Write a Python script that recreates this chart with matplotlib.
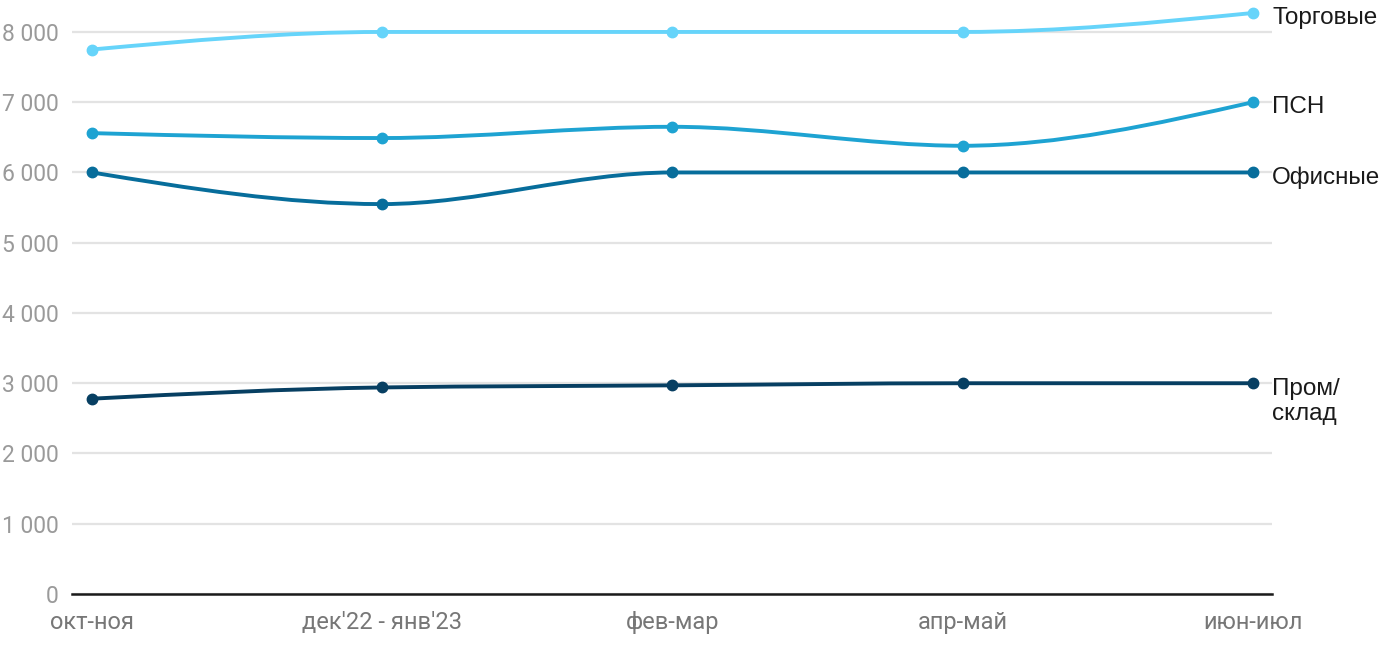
import numpy as np
import matplotlib
matplotlib.use("Agg")
import matplotlib.pyplot as plt
from matplotlib.path import Path
from matplotlib.patches import PathPatch
from matplotlib.ticker import FuncFormatter

# Данные (читаются с картинки)
periods = ["окт-ноя", "дек'22 - янв'23", "фев-мар", "апр-май", "июн-июл"]
torgovye = [7750, 8000, 8000, 8000, 8270]
psn = [6560, 6490, 6650, 6380, 7000]
ofisnye = [6000, 5550, 6000, 6000, 6000]
prom_sklad = [2780, 2940, 2970, 3000, 3000]

series_names = ["Торговые", "ПСН", "Офисные", "Пром/\nсклад"]
series_values = [torgovye, psn, ofisnye, prom_sklad]
colors = ["#66d4fa", "#1ea3d2", "#076d9b", "#073f62"]


def monotone_path(xs, ys):
    # кривая как d3.curveMonotoneX, отрезки Безье в координатах данных
    xs = np.asarray(xs, float)
    ys = np.asarray(ys, float)
    n = len(xs)
    h = np.diff(xs)
    s = np.diff(ys) / h
    t = np.zeros(n)
    for i in range(1, n - 1):
        p = (s[i - 1] * h[i] + s[i] * h[i - 1]) / (h[i - 1] + h[i])
        t[i] = (np.sign(s[i - 1]) + np.sign(s[i])) * min(abs(s[i - 1]), abs(s[i]), 0.5 * abs(p))
    t[0] = (3 * s[0] - t[1]) / 2
    t[-1] = (3 * s[-1] - t[-2]) / 2
    verts = [(xs[0], ys[0])]
    codes = [Path.MOVETO]
    for i in range(n - 1):
        dx = h[i] / 3
        verts += [(xs[i] + dx, ys[i] + dx * t[i]),
                  (xs[i + 1] - dx, ys[i + 1] - dx * t[i + 1]),
                  (xs[i + 1], ys[i + 1])]
        codes += [Path.CURVE4] * 3
    return Path(verts, codes)


plt.rcParams["font.family"] = ["Roboto", "DejaVu Sans"]

fig = plt.figure(figsize=(14, 6.5), dpi=100)
ax = fig.add_axes([72 / 1400, 56 / 650, 1200 / 1400, (594 - 3.85) / 650])

x = np.arange(len(periods))
for name, vals, c in zip(series_names, series_values, colors):
    ax.add_patch(PathPatch(monotone_path(x, vals), facecolor="none", edgecolor=c,
                           lw=2.8, capstyle="round", joinstyle="round", zorder=3))
    ax.plot(x, vals, "o", color=c, markersize=7.5, zorder=4)
    dy = -13 if "\n" in name else -3.5
    ax.annotate(name, (x[-1], vals[-1]), xytext=(14, dy), textcoords="offset points",
                va="center", ha="left", fontsize=17.5, color="#1a1a1a",
                family=["Liberation Sans", "DejaVu Sans"], linespacing=1.2,
                annotation_clip=False)

ax.set_xlim(-0.069, len(periods) - 1 + 0.066)
ax.set_ylim(0, 8400)
ax.set_yticks(range(0, 9000, 1000))
ax.yaxis.set_major_formatter(FuncFormatter(lambda v, p: f"{int(v):,}".replace(",", " ")))
ax.set_xticks(x)
ax.set_xticklabels(periods)

ax.grid(axis="y", color="#e3e3e3", lw=1.6)
ax.set_axisbelow(True)
for sp in ["top", "right", "left"]:
    ax.spines[sp].set_visible(False)
ax.spines["bottom"].set_color("#1a1a1a")
ax.spines["bottom"].set_linewidth(1.8)
ax.spines["bottom"].set_zorder(5)

ax.tick_params(axis="y", length=0, pad=9.4, labelsize=16.5, labelcolor="#9a9a9a")
ax.tick_params(axis="x", length=0, pad=12, labelsize=17, labelcolor="#777777")

fig.savefig("out.png", dpi=100)
plt.close(fig)
